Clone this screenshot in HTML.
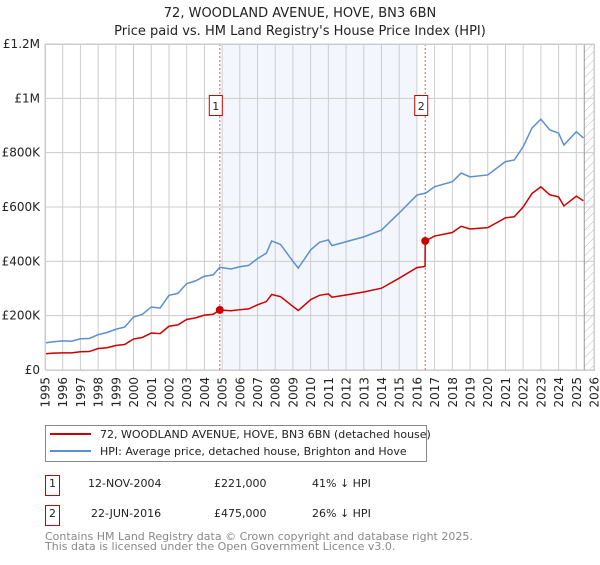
<!DOCTYPE html>
<html><head><meta charset="utf-8"><style>
body{margin:0;background:#fff;width:600px;height:560px;overflow:hidden;font-family:"Liberation Sans","DejaVu Sans",sans-serif}
svg text{font-family:"DejaVu Sans","Liberation Sans",sans-serif}
</style></head><body>
<svg id="chart" width="600" height="560">
<defs><pattern id="hatch" width="6" height="6" patternUnits="userSpaceOnUse" patternTransform="rotate(45)"><line x1="0" y1="0" x2="0" y2="6" stroke="#bbb" stroke-width="1"/></pattern></defs>
<text x="300" y="17" text-anchor="middle" font-size="13" fill="#222">72, WOODLAND AVENUE, HOVE, BN3 6BN</text>
<text x="300" y="35" text-anchor="middle" font-size="13" fill="#222">Price paid vs. HM Land Registry's House Price Index (HPI)</text>
<g id="grid"></g><g id="marks"></g>
<g>
<rect x="45.5" y="425.5" width="381" height="36" fill="#fff" stroke="#888"/>
<line x1="50" y1="434" x2="91" y2="434" stroke="#cc0000" stroke-width="2"/>
<text x="100" y="438" font-size="11" fill="#222">72, WOODLAND AVENUE, HOVE, BN3 6BN (detached house)</text>
<line x1="50" y1="451" x2="91" y2="451" stroke="#5b8fd0" stroke-width="2"/>
<text x="100" y="455" font-size="11" fill="#222">HPI: Average price, detached house, Brighton and Hove</text>
</g>
<g font-size="11" fill="#222">
<rect x="45.5" y="475.5" width="14" height="20" fill="#fff" stroke="#cc0000"/>
<text x="52.5" y="487" text-anchor="middle">1</text>
<text x="88" y="487">12-NOV-2004</text><text x="214" y="487">£221,000</text><text x="312" y="487">41% ↓ HPI</text>
<rect x="45.5" y="505.5" width="14" height="20" fill="#fff" stroke="#cc0000"/>
<text x="52.5" y="517" text-anchor="middle">2</text>
<text x="91" y="517">22-JUN-2016</text><text x="214" y="517">£475,000</text><text x="312" y="517">26% ↓ HPI</text>
</g>
<text font-size="11" fill="#888"><tspan x="45" y="540">Contains HM Land Registry data © Crown copyright and database right 2025.</tspan><tspan x="45" y="550">This data is licensed under the Open Government Licence v3.0.</tspan></text>
</svg>
<script>
const yTicks=[0,200000,400000,600000,800000,1000000,1200000];
const yTickLabels=["£0","£200K","£400K","£600K","£800K","£1M","£1.2M"];
const years=[1995,1996,1997,1998,1999,2000,2001,2002,2003,2004,2005,2006,2007,2008,2009,2010,2011,2012,2013,2014,2015,2016,2017,2018,2019,2020,2021,2022,2023,2024,2025,2026];
const hpiDates=[1995,1995.5,1996,1996.5,1997,1997.5,1998,1998.5,1999,1999.5,2000,2000.5,2001,2001.5,2002,2002.5,2003,2003.5,2004,2004.5,2004.87,2005.5,2006,2006.5,2007,2007.5,2007.8,2008.3,2009,2009.3,2010,2010.5,2011,2011.2,2012,2013,2014,2015,2016,2016.5,2017,2018,2018.5,2019,2020,2021,2021.5,2022,2022.5,2023,2023.5,2024,2024.3,2025,2025.4];
const hpiValues=[100,104,107,106,115,116,130,138,150,158,195,205,232,228,275,282,318,328,345,350,378,372,380,385,410,430,475,462,400,375,442,470,479,458,472,490,515,578,644,651,675,693,725,711,718,767,773,822,891,923,884,872,828,877,854];
const propDates=[1995,1995.5,1996,1996.5,1997,1997.5,1998,1998.5,1999,1999.5,2000,2000.5,2001,2001.5,2002,2002.5,2003,2003.5,2004,2004.5,2004.87,2005.5,2006,2006.5,2007,2007.5,2007.8,2008.3,2009,2009.3,2010,2010.5,2011,2011.2,2012,2013,2014,2015,2016,2016.46,2016.47,2017,2018,2018.5,2019,2020,2021,2021.5,2022,2022.5,2023,2023.5,2024,2024.3,2025,2025.4];
const propValues=[60,62,63,63,67,68,79,82,90,94,114,120,136,134,161,166,186,192,202,205,221,218,222,225,240,252,278,270,234,219,259,275,280,268,276,287,301,338,377,381,475,493,506,529,519,524,560,564,600,650,674,645,637,604,640,623];
const sales=[{d:2004.87,v:221000,n:"1"},{d:2016.47,v:475000,n:"2"}];
const X0=45,X1=594,Y0=370,Y1=44;
const xS=d=>X0+(d-1995)/(2026-1995)*(X1-X0);
const yS=v=>Y0-v/1200000*(Y0-Y1);
const NS="http://www.w3.org/2000/svg";
const grid=document.getElementById('grid'),marks=document.getElementById('marks');
function mk(p,tag,a){const e=document.createElementNS(NS,tag);for(const k in a)e.setAttribute(k,a[k]);p.appendChild(e);return e;}
const shade=mk(grid,'rect',{x:xS(2005),y:Y1,width:xS(2016)-xS(2005),height:Y0-Y1,fill:'#eef3fc',opacity:0.7});


const hatch=mk(grid,'rect',{x:xS(2025.45),y:Y1,width:X1-xS(2025.45),height:Y0-Y1,fill:'url(#hatch)'});


years.forEach(y=>{
 const l=mk(grid,'line',{x1:xS(y),x2:xS(y),y1:Y1,y2:Y0,stroke:'#ccc','stroke-width':1});
 
 
 const t=mk(grid,'text',{transform:`translate(${xS(y)+4.5},${377}) rotate(-90)`,'text-anchor':'end','font-size':12,fill:'#222'});
 t.textContent=y;
 
 
});
yTicks.forEach((v,i)=>{
 const l=mk(grid,'line',{x1:X0,x2:X1,y1:yS(v),y2:yS(v),stroke:'#ccc','stroke-width':1});
 
 
 const t=mk(grid,'text',{x:40,y:yS(v)+4,'text-anchor':'end','font-size':12,fill:'#222'});
 t.textContent=yTickLabels[i];
 
 
});
mk(grid,'line',{x1:xS(2025.45),x2:xS(2025.45),y1:Y1,y2:Y0,stroke:'#999'});
sales.forEach(s=>{
 const l=mk(marks,'line',{x1:xS(s.d),x2:xS(s.d),y1:Y1,y2:Y0,stroke:'#e55','stroke-dasharray':'2,2','stroke-width':1});
 
 
});
const hp=mk(marks,'polyline',{points:hpiDates.map((d,i)=>xS(d)+','+yS(hpiValues[i]*1000)).join(' '),fill:'none',stroke:'#5b8fd0','stroke-width':1.5});


const pp=mk(marks,'polyline',{points:propDates.map((d,i)=>xS(d)+','+yS(propValues[i]*1000)).join(' '),fill:'none',stroke:'#cc0000','stroke-width':1.5});


sales.forEach(s=>{
 const c=mk(marks,'circle',{cx:xS(s.d),cy:yS(s.v),r:4,fill:'#cc0000'});
 
 
 const bx=xS(s.d)-11;
 const r=mk(marks,'rect',{x:bx+.5,y:95.5,width:13,height:20,fill:'#fff',stroke:'#cc0000'});
 
 
 const t=mk(marks,'text',{x:bx+7,y:110,'text-anchor':'middle','font-size':11,fill:'#222'});
 t.textContent=s.n;
 
 
});
mk(marks,'rect',{x:X0+.5,y:Y1+.5,width:X1-X0,height:Y0-Y1,fill:'none',stroke:'#ccc'});
</script>
</body></html>
